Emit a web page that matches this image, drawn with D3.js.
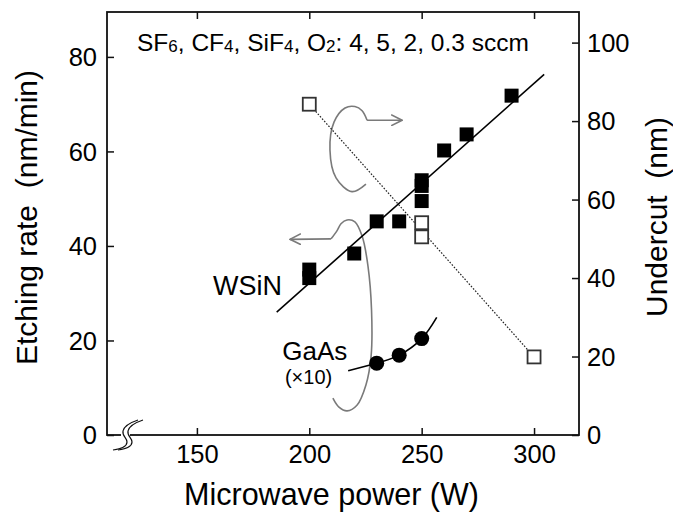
<!DOCTYPE html>
<html>
<head>
<meta charset="utf-8">
<script src="https://cdn.jsdelivr.net/npm/d3@7"></script>
<style>
  html, body { margin: 0; padding: 0; background: #fff; }
  svg { display: block; font-family: "Liberation Sans", Arial, Helvetica, sans-serif; }
</style>
</head>
<body>
<svg id="chart" width="673" height="513"></svg>
<script>
// Microwave power axis
const xTicks = [150, 200, 250, 300];
const yLeftTicks = [0, 20, 40, 60, 80];
const yRightTicks = [0, 20, 40, 60, 80, 100];

// WSiN etching rate (nm/min), filled squares
const wsinPower = [200, 200, 220, 230, 240, 250, 250, 250, 260, 270, 290];
const wsinRate  = [35.0, 33.2, 38.4, 45.2, 45.2, 53.9, 52.7, 49.5, 60.2, 63.6, 71.8];
// WSiN linear fit
const wsinFitPower = [185.5, 304.5];
const wsinFitRate  = [26.0, 76.3];

// GaAs etching rate (x10), filled circles
const gaasPower = [230, 240, 250];
const gaasRate  = [15.2, 16.9, 20.4];
// GaAs trend curve
const gaasFitPower = [217.3, 230, 240, 250, 256.7];
const gaasFitRate  = [13.6, 15.2, 16.9, 20.4, 24.9];

// Undercut (nm), open squares, right axis
const undercutPower = [200, 250, 250, 300];
const undercutNm    = [84.3, 54.1, 50.5, 19.9];
const undercutTrendPower = [200, 300];
const undercutTrendNm    = [84.3, 19.9];

// Pointer loops (power, left-axis units)
const loopRightPower = [225.2, 219.0, 211.9, 209.2, 211.0, 215.9, 220.3, 223.5, 225.7];
const loopRightRate  = [53.1, 51.5, 54.4, 60.3, 66.2, 69.2, 69.5, 68.6, 66.6];
const arrowRightPower = [225.7, 241.3];
const arrowRightRate  = [66.6, 66.6];
const loopLeftPower = [209.7, 212.3, 214.1, 216.8, 220.3, 223.5, 226.1, 227.7, 227.5, 225.2, 221.2, 216.8, 213.2, 210.5];
const loopLeftRate  = [41.5, 43.2, 44.7, 45.5, 45.1, 42.1, 35.8, 26.4, 16.7, 10.6, 6.3, 5.1, 5.9, 7.8];
const arrowLeftPower = [209.7, 191.4];
const arrowLeftRate  = [41.5, 41.4];

const svg = d3.select("#chart");
const plotLeft = 107, plotRight = 579, plotTop = 12, plotBottom = 435;

const x = d3.scaleLinear().domain([110, 320]).range([plotLeft, plotRight]);
const yL = d3.scaleLinear().domain([0, 89.5]).range([plotBottom, plotTop]);
const yR = d3.scaleLinear().domain([0, 107.8]).range([plotBottom, plotTop]);

const tickFont = 25.5;
const gray = "#7a7a7a";

// arrow marker
const defs = svg.append("defs");
defs.append("marker")
  .attr("id", "chev")
  .attr("viewBox", "0 0 12 12")
  .attr("refX", 11).attr("refY", 6)
  .attr("markerWidth", 12).attr("markerHeight", 12)
  .attr("markerUnits", "userSpaceOnUse")
  .attr("orient", "auto")
  .append("path")
  .attr("d", "M0,0.5 L11,6 L0,11.5")
  .attr("fill", "none")
  .attr("stroke", gray)
  .attr("stroke-width", 1.6);

// axes
const gBottom = svg.append("g").attr("transform", `translate(0,${plotBottom})`)
  .call(d3.axisBottom(x).tickValues(xTicks).tickSize(-7).tickPadding(11));
const gTop = svg.append("g").attr("transform", `translate(0,${plotTop})`)
  .call(d3.axisTop(x).tickValues(xTicks).tickSize(-7).tickFormat(""));
const gLeft = svg.append("g").attr("transform", `translate(${plotLeft},0)`)
  .call(d3.axisLeft(yL).tickValues(yLeftTicks).tickSize(-7).tickPadding(10));
const gRight = svg.append("g").attr("transform", `translate(${plotRight},0)`)
  .call(d3.axisRight(yR).tickValues(yRightTicks).tickSize(-7).tickPadding(8));

[gBottom, gTop, gLeft, gRight].forEach(g => {
  g.select(".domain").remove();
  g.selectAll(".tick line").attr("stroke", "#111").attr("stroke-width", 1.5);
  g.selectAll(".tick text")
    .attr("fill", "#000")
    .style("font-size", tickFont + "px")
    .style("font-family", "'Liberation Sans', Arial, sans-serif");
});
gBottom.selectAll(".tick text").attr("dy", "0.68em");
gLeft.selectAll(".tick text").attr("dy", "0.34em");
gRight.selectAll(".tick text").attr("dy", "0.34em");

// frame
svg.append("rect")
  .attr("x", plotLeft).attr("y", plotTop)
  .attr("width", plotRight - plotLeft).attr("height", plotBottom - plotTop)
  .attr("fill", "none").attr("stroke", "#111").attr("stroke-width", 1.8);

// axis break on the power axis
const ox = x(110), oy = yL(0);
function breakPath(dx) {
  const p = d3.path();
  p.moveTo(ox + 6 + dx, oy + 15);
  p.bezierCurveTo(ox + 13 + dx, oy + 14, ox + 20 + dx, oy + 12, ox + 20 + dx, oy + 7);
  p.bezierCurveTo(ox + 20 + dx, oy + 3, ox + 15 + dx, oy + 1, ox + 16 + dx, oy - 4);
  p.bezierCurveTo(ox + 17 + dx, oy - 9, ox + 25 + dx, oy - 13, ox + 31 + dx, oy - 15);
  return p.toString();
}
svg.append("rect")
  .attr("x", ox + 14).attr("y", oy - 3).attr("width", 9).attr("height", 6)
  .attr("fill", "#fff");
svg.append("path").attr("d", breakPath(0)).attr("fill", "none").attr("stroke", "#111").attr("stroke-width", 1.2);
svg.append("path").attr("d", breakPath(5)).attr("fill", "none").attr("stroke", "#111").attr("stroke-width", 1.2);

// pointer loops
const loopLine = d3.line().x(d => x(d[0])).y(d => yL(d[1])).curve(d3.curveCatmullRom.alpha(0.5));
const straight = d3.line().x(d => x(d[0])).y(d => yL(d[1]));
svg.append("path")
  .attr("d", loopLine(d3.zip(loopRightPower, loopRightRate)))
  .attr("fill", "none").attr("stroke", gray).attr("stroke-width", 1.6);
svg.append("path")
  .attr("d", straight(d3.zip(arrowRightPower, arrowRightRate)))
  .attr("fill", "none").attr("stroke", gray).attr("stroke-width", 1.6)
  .attr("marker-end", "url(#chev)");
svg.append("path")
  .attr("d", loopLine(d3.zip(loopLeftPower, loopLeftRate)))
  .attr("fill", "none").attr("stroke", gray).attr("stroke-width", 1.6);
svg.append("path")
  .attr("d", straight(d3.zip(arrowLeftPower, arrowLeftRate)))
  .attr("fill", "none").attr("stroke", gray).attr("stroke-width", 1.6)
  .attr("marker-end", "url(#chev)");

// undercut trend (dotted)
svg.append("path")
  .attr("d", d3.line().x(d => x(d[0])).y(d => yR(d[1]))(d3.zip(undercutTrendPower, undercutTrendNm)))
  .attr("fill", "none").attr("stroke", "#222").attr("stroke-width", 1.2)
  .attr("stroke-dasharray", "1.6,1.6");

// WSiN fit line
svg.append("path")
  .attr("d", straight(d3.zip(wsinFitPower, wsinFitRate)))
  .attr("fill", "none").attr("stroke", "#000").attr("stroke-width", 1.6);

// GaAs trend curve
svg.append("path")
  .attr("d", d3.line().x(d => x(d[0])).y(d => yL(d[1])).curve(d3.curveNatural)(d3.zip(gaasFitPower, gaasFitRate)))
  .attr("fill", "none").attr("stroke", "#000").attr("stroke-width", 1.6);

// undercut markers
const sqOpen = 13;
svg.append("g").selectAll("rect")
  .data(d3.zip(undercutPower, undercutNm))
  .join("rect")
  .attr("x", d => x(d[0]) - sqOpen / 2)
  .attr("y", d => yR(d[1]) - sqOpen / 2)
  .attr("width", sqOpen).attr("height", sqOpen)
  .attr("fill", "#fff").attr("stroke", "#333").attr("stroke-width", 1.8);

// WSiN markers
const sq = 14;
svg.append("g").selectAll("rect")
  .data(d3.zip(wsinPower, wsinRate))
  .join("rect")
  .attr("x", d => x(d[0]) - sq / 2)
  .attr("y", d => yL(d[1]) - sq / 2)
  .attr("width", sq).attr("height", sq)
  .attr("fill", "#000");

// GaAs markers
svg.append("g").selectAll("circle")
  .data(d3.zip(gaasPower, gaasRate))
  .join("circle")
  .attr("cx", d => x(d[0]))
  .attr("cy", d => yL(d[1]))
  .attr("r", 7.5)
  .attr("fill", "#000");

// series labels
svg.append("text")
  .attr("x", x(187.9)).attr("y", yL(29.6))
  .attr("text-anchor", "end").style("font-size", "27px")
  .text("WSiN");
svg.append("text")
  .attr("x", x(216.9)).attr("y", yL(15.8))
  .attr("text-anchor", "end").style("font-size", "26px")
  .text("GaAs");
svg.append("text")
  .attr("x", x(210.2)).attr("y", yL(10.7))
  .attr("text-anchor", "end").style("font-size", "20px")
  .text("(×10)");

// gas condition note
const noteParts = [
  ["SF", false], ["6", true], [", CF", false], ["4", true], [", SiF", false], ["4", true],
  [", O", false], ["2", true], [": 4, 5, 2, 0.3 sccm", false]
];
const note = svg.append("text")
  .attr("x", 137).attr("y", 51)
  .style("font-size", "24.5px");
noteParts.forEach(([t, isSub], i) => {
  const prevSub = i > 0 && noteParts[i - 1][1];
  const ts = note.append("tspan").text(t).attr("dy", isSub ? 1 : (prevSub ? -1 : 0));
  if (isSub) ts.style("font-size", "17px");
});

// axis titles
svg.append("text")
  .attr("x", 331.5).attr("y", 505)
  .attr("text-anchor", "middle").style("font-size", "30.5px")
  .text("Microwave power (W)");
svg.append("text")
  .attr("transform", "translate(37,217.5) rotate(-90)")
  .attr("text-anchor", "middle").style("font-size", "30px")
  .style("white-space", "pre")
  .text("Etching rate  (nm/min)");
svg.append("text")
  .attr("transform", "translate(666.5,217) rotate(-90)")
  .attr("text-anchor", "middle").style("font-size", "30px")
  .style("white-space", "pre")
  .text("Undercut  (nm)");
</script>
</body>
</html>
